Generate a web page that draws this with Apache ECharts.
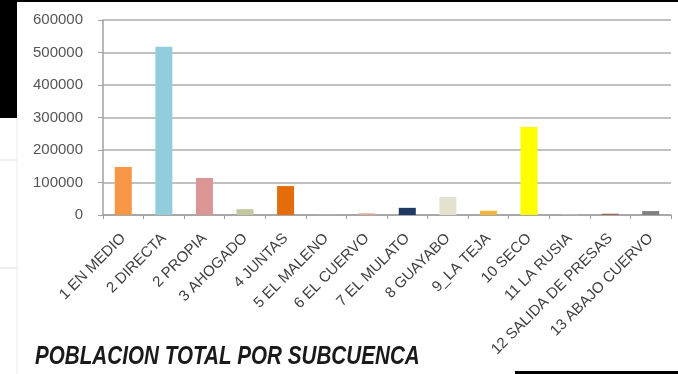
<!DOCTYPE html>
<html>
<head>
<meta charset="utf-8">
<script src="https://cdn.jsdelivr.net/npm/echarts@6/dist/echarts.min.js"></script>
<style>
html,body{margin:0;padding:0;background:#fff;}
#c{width:678px;height:374px;}
</style>
</head>
<body>
<div id="c"></div>
<script>
var categories = ["1 EN MEDIO","2 DIRECTA","2 PROPIA","3 AHOGADO","4 JUNTAS","5 EL MALENO","6 EL CUERVO","7 EL MULATO","8 GUAYABO","9_LA TEJA","10 SECO","11 LA RUSIA","12 SALIDA DE PRESAS","13 ABAJO CUERVO"];
var poblacion = [148000, 518000, 114000, 18000, 89000, 500, 5000, 22000, 55000, 13000, 271000, 1500, 4000, 12000];
var yTicks = [0, 100000, 200000, 300000, 400000, 500000, 600000];
var titleText = "POBLACION TOTAL POR SUBCUENCA";

var palette = ["#f79646","#92cddc","#d99694","#c4c8a0","#e46c0a","#d0d0d0","#d9a99a","#1f3864","#e4e1cf","#f2b53a","#ffff00","#c8c8c8","#a0665e","#7f7f7f"];

var chart = echarts.init(document.getElementById('c'), null, {renderer:'canvas'});
chart.setOption({
  backgroundColor: '#ffffff',
  animation: false,
  grid: {left: 103, right: 7, top: 20, bottom: 159, containLabel: false},
  xAxis: {
    type: 'category',
    data: categories,
    boundaryGap: true,
    axisLine: {show: true, lineStyle: {color: '#a0a0a0', width: 1.5}},
    axisTick: {show: true, length: 4, alignWithLabel: false, lineStyle: {color: '#a0a0a0'}},
    axisLabel: {rotate: 45, interval: 0, margin: 21, color: '#404040', fontSize: 15, fontFamily: '"Liberation Sans",Arial'}
  },
  yAxis: {
    type: 'value',
    min: yTicks[0], max: yTicks[yTicks.length-1], interval: yTicks[1]-yTicks[0],
    axisLine: {show: true, lineStyle: {color: '#a0a0a0', width: 1.5}},
    axisTick: {show: true, length: 5, lineStyle: {color: '#a0a0a0'}},
    axisLabel: {color: '#555555', fontSize: 15, margin: 20, fontFamily: '"Liberation Sans",Arial',
      formatter: function(v){ return String(v); }},
    splitLine: {show: true, lineStyle: {color: '#acacac', width: 1.5}}
  },
  series: [{
    type: 'bar',
    data: poblacion.map(function(v, i){ return {value: v, itemStyle: {color: palette[i]}}; }),
    barWidth: 17
  }],
  graphic: [
    {type:'text', left: 35, top: 345, scaleX: 0.826, originX: 0, originY: 0,
      style:{text: titleText, font: 'italic bold 25px "Liberation Sans", Arial', fill:'#1a1a1a'}, z:50},
    {type:'rect', shape:{x:0,y:0,width:678,height:2}, style:{fill:'#000'}, z:100},
    {type:'rect', shape:{x:0,y:0,width:17,height:118}, style:{fill:'#000'}, z:100},
    {type:'rect', shape:{x:515,y:371,width:163,height:3}, style:{fill:'#000'}, z:100},
    {type:'line', shape:{x1:17,y1:118,x2:17,y2:374}, style:{stroke:'#ececec', lineWidth:1}, z:90},
    {type:'line', shape:{x1:0,y1:160,x2:17,y2:160}, style:{stroke:'#e0e0e0', lineWidth:1}, z:90},
    {type:'line', shape:{x1:0,y1:268,x2:17,y2:268}, style:{stroke:'#e0e0e0', lineWidth:1}, z:90}
  ]
});
</script>
</body>
</html>
